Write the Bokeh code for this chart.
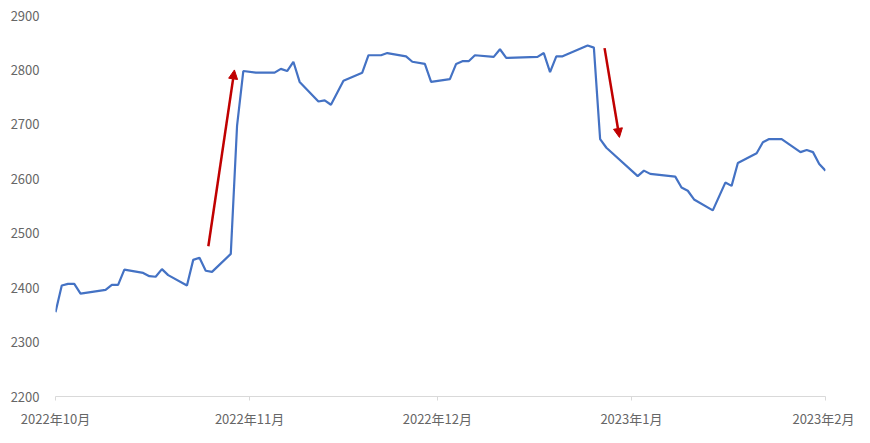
import pandas as pd
from bokeh.plotting import figure
from bokeh.models import Range1d, FixedTicker, Arrow, NormalHead, ColumnDataSource
from bokeh.embed import file_html
from bokeh.resources import INLINE

dates = [
    "2022-10-01", "2022-10-02", "2022-10-03", "2022-10-04", "2022-10-05", "2022-10-09",
    "2022-10-10", "2022-10-11", "2022-10-12", "2022-10-15", "2022-10-16", "2022-10-17",
    "2022-10-18", "2022-10-19", "2022-10-22", "2022-10-23", "2022-10-24", "2022-10-25",
    "2022-10-26", "2022-10-29", "2022-10-30", "2022-10-31", "2022-11-02", "2022-11-05",
    "2022-11-06", "2022-11-07", "2022-11-08", "2022-11-09", "2022-11-12", "2022-11-13",
    "2022-11-14", "2022-11-15", "2022-11-16", "2022-11-19", "2022-11-20", "2022-11-22",
    "2022-11-23", "2022-11-26", "2022-11-27", "2022-11-29", "2022-11-30", "2022-12-03",
    "2022-12-04", "2022-12-05", "2022-12-06", "2022-12-07", "2022-12-10", "2022-12-11",
    "2022-12-12", "2022-12-17", "2022-12-18", "2022-12-19", "2022-12-20", "2022-12-21",
    "2022-12-25", "2022-12-26", "2022-12-27", "2022-12-28", "2023-01-02", "2023-01-03",
    "2023-01-04", "2023-01-08", "2023-01-09", "2023-01-10", "2023-01-11", "2023-01-14",
    "2023-01-16", "2023-01-17", "2023-01-18", "2023-01-21", "2023-01-22", "2023-01-23",
    "2023-01-25", "2023-01-28", "2023-01-29", "2023-01-30", "2023-01-31", "2023-02-01",
]
prices = [
    2355, 2404, 2407, 2407, 2389, 2396,
    2405, 2405, 2433, 2427, 2421, 2420,
    2434, 2423, 2404, 2451, 2455, 2431,
    2429, 2462, 2697, 2798, 2795, 2795,
    2802, 2798, 2815, 2778, 2742, 2744,
    2736, 2758, 2780, 2795, 2827, 2827,
    2831, 2825, 2815, 2811, 2778, 2783,
    2811, 2816, 2816, 2827, 2824, 2838,
    2822, 2824, 2831, 2796, 2825, 2825,
    2845, 2841, 2673, 2657, 2605, 2615,
    2609, 2604, 2584, 2578, 2562, 2542,
    2593, 2587, 2629, 2647, 2667, 2673,
    2673, 2649, 2653, 2649, 2627, 2615,
]

month_ticks = ["2022-10-01", "2022-11-01", "2022-12-01", "2023-01-01", "2023-02-01"]
month_labels = ["2022年10月", "2022年11月", "2022年12月", "2023年1月", "2023年2月"]
y_ticks = [2200, 2300, 2400, 2500, 2600, 2700, 2800, 2900]

arrow_start_dates = ["2022-10-25 10:00", "2022-12-27 17:00"]
arrow_start_values = [2476, 2840]
arrow_end_dates = ["2022-10-29 14:00", "2022-12-30 02:00"]
arrow_end_values = [2800, 2676]


def ms(s):
    return pd.Timestamp(s).value / 1e6


x = [pd.Timestamp(d) for d in dates]
src = ColumnDataSource(dict(x=x, y=prices))

p = figure(width=854, height=430, x_axis_type="datetime",
           output_backend="svg", toolbar_location=None,
           x_range=Range1d(ms(month_ticks[0]), ms(month_ticks[-1])),
           y_range=Range1d(y_ticks[0], y_ticks[-1]),
           min_border_left=55, min_border_right=29,
           min_border_top=15, min_border_bottom=30)
p.outline_line_color = None
p.xgrid.visible = False
p.ygrid.visible = False
p.background_fill_color = "white"

p.line("x", "y", source=src, line_color="#4472C4", line_width=2.2)

for sd, sv, ed, ev in zip(arrow_start_dates, arrow_start_values, arrow_end_dates, arrow_end_values):
    p.add_layout(Arrow(x_start=ms(sd), y_start=sv, x_end=ms(ed), y_end=ev,
                       line_color="#C00000", line_width=2.5,
                       end=NormalHead(size=9, fill_color="#C00000", line_color="#C00000")))

tick_ms = [ms(t) for t in month_ticks]
p.xaxis.ticker = FixedTicker(ticks=tick_ms)
p.xaxis.major_label_overrides = {int(t): lab for t, lab in zip(tick_ms, month_labels)}
p.xaxis.axis_line_color = "#D9D9D9"
p.xaxis.major_tick_line_color = "#D9D9D9"
p.xaxis.major_tick_in = 0
p.xaxis.major_tick_out = 4
p.xaxis.minor_tick_line_color = None
p.xaxis.major_label_standoff = 8

p.yaxis.ticker = FixedTicker(ticks=y_ticks)
p.yaxis.axis_line_color = None
p.yaxis.major_tick_line_color = None
p.yaxis.minor_tick_line_color = None
p.yaxis.major_label_standoff = 10

for ax in (p.xaxis, p.yaxis):
    ax.major_label_text_font = "Noto Sans CJK SC"
    ax.major_label_text_font_size = "13px"
    ax.major_label_text_color = "#666666"

open("out.html", "w").write(file_html(p, INLINE))
